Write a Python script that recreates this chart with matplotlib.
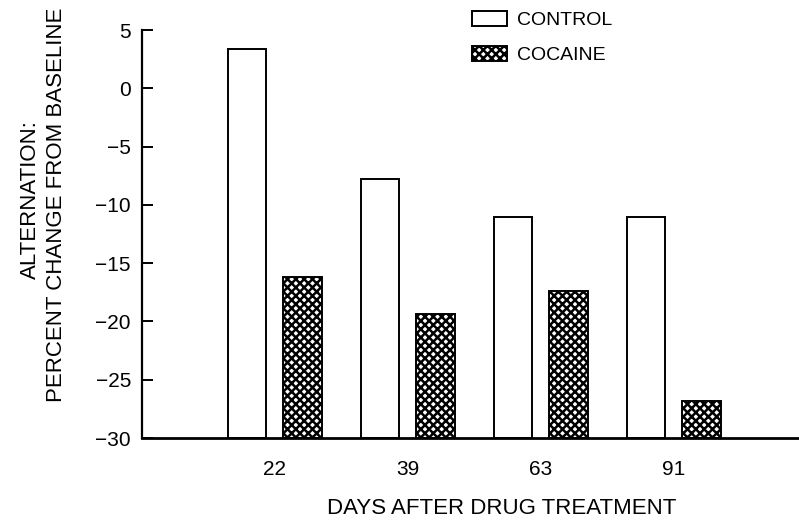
import matplotlib
matplotlib.use("Agg")
import matplotlib.pyplot as plt
import numpy as np
from matplotlib.patches import Patch

days = ["22", "39", "63", "91"]
control = [3.4, -7.8, -11.0, -11.0]
cocaine = [-16.2, -19.4, -17.4, -26.8]
yticks = [5, 0, -5, -10, -15, -20, -25, -30]

plt.rcParams['font.family'] = ['Liberation Sans', 'DejaVu Sans']
plt.rcParams['hatch.linewidth'] = 1.8

fig = plt.figure(figsize=(7.99, 5.23), dpi=100)
ax = fig.add_axes([142/799, 1-438/523, 1-142/799, (438-30)/523])

x = np.arange(len(days))
w = 0.29
base = -30
ax.bar(x - 0.21, np.array(control) - base, w, bottom=base, facecolor='white',
       edgecolor='black', linewidth=1.4, label='CONTROL')
ax.bar(x + 0.205, np.array(cocaine) - base, w, bottom=base, facecolor='white',
       edgecolor='black', linewidth=1.4, hatch='xxxx', label='COCAINE')

ax.set_ylim(-30, 5)
ax.set_xlim(-1, 3.94)
ax.set_yticks(yticks)
ax.set_yticklabels([str(t).replace('-', '\u2212') for t in yticks], fontsize=15)
ax.set_xticks(x)
ax.set_xticklabels(days, fontsize=15)
ax.tick_params(axis='y', direction='in', length=8, width=1.4, pad=8)
ax.tick_params(axis='x', length=0, pad=16)
for s in ['top', 'right']:
    ax.spines[s].set_visible(False)
ax.spines['left'].set_linewidth(1.6)
ax.spines['bottom'].set_linewidth(2)

handles = [Patch(facecolor='white', edgecolor='black', linewidth=1.4, label='CONTROL'),
           Patch(facecolor='white', edgecolor='black', linewidth=1.4, hatch='xxxx', label='COCAINE')]
fig.legend(handles=handles, loc='upper left', bbox_to_anchor=(472/799, 1-11/523),
           frameon=False, fontsize=14, handlelength=1.8, handleheight=0.8,
           handletextpad=0.5, labelspacing=0.85, borderpad=0, borderaxespad=0)

fig.text(502/799, 1-508/523, 'DAYS AFTER DRUG TREATMENT', ha='center', va='center', fontsize=16)
fig.text(30/799, 1-200/523, 'ALTERNATION:', rotation=90, ha='center', va='center', fontsize=16)
fig.text(57/799, 1-205/523, 'PERCENT CHANGE FROM BASELINE', rotation=90, ha='center', va='center', fontsize=16)

fig.savefig('out.png', dpi=100)
